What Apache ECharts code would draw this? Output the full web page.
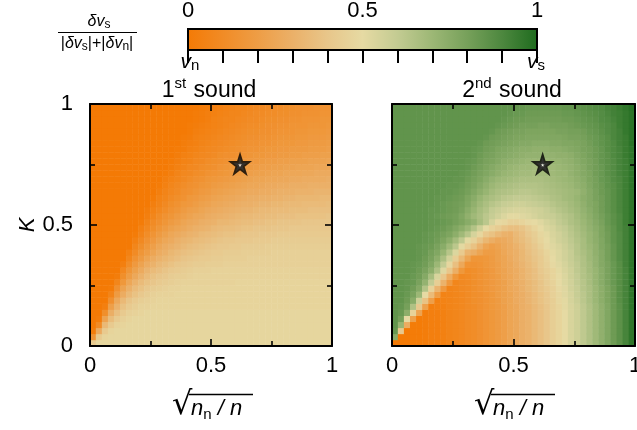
<!DOCTYPE html>
<html><head><meta charset="utf-8">
<script src="https://cdn.jsdelivr.net/npm/echarts@6/dist/echarts.min.js"></script>
<style>html,body{margin:0;padding:0;background:#fff}#c{width:637px;height:430px}</style>
</head><body><div id="c"></div>
<script>
// ---- data ----
// cell centres of the 40 x 40 grid (sqrt(n_n/n) and K)
const xCats = ['0.0125','0.0375','0.0625','0.0875','0.1125','0.1375','0.1625','0.1875','0.2125','0.2375','0.2625','0.2875','0.3125','0.3375','0.3625','0.3875','0.4125','0.4375','0.4625','0.4875','0.5125','0.5375','0.5625','0.5875','0.6125','0.6375','0.6625','0.6875','0.7125','0.7375','0.7625','0.7875','0.8125','0.8375','0.8625','0.8875','0.9125','0.9375','0.9625','0.9875'];
const kCats = ['0.0125','0.0375','0.0625','0.0875','0.1125','0.1375','0.1625','0.1875','0.2125','0.2375','0.2625','0.2875','0.3125','0.3375','0.3625','0.3875','0.4125','0.4375','0.4625','0.4875','0.5125','0.5375','0.5625','0.5875','0.6125','0.6375','0.6625','0.6875','0.7125','0.7375','0.7625','0.7875','0.8125','0.8375','0.8625','0.8875','0.9125','0.9375','0.9625','0.9875'];
// ratio x100, rows from K=0.0125 (bottom) to K=0.9875 (top)
const firstSound = [
[42,48,48,48,48,48,48,48,48,48, 48,48,48,48,48,48,48,48,48,48, 48,48,48,48,48,48,48,48,48,48, 48,48,48,48,48,48,48,48,48,48],
[15,42,47,48,48,48,48,48,48,48, 48,48,48,48,48,48,48,48,48,48, 48,48,48,48,48,48,48,48,48,48, 48,48,48,48,48,48,48,48,48,48],
[2,27,42,47,48,48,48,48,48,48, 48,48,48,48,48,48,48,48,48,48, 48,48,48,48,48,48,48,48,48,48, 48,48,48,48,48,48,48,48,48,48],
[0,10,34,42,46,47,48,48,48,48, 48,48,48,48,48,48,48,48,48,48, 48,48,48,48,48,48,48,48,48,48, 48,48,48,48,48,48,48,48,48,48],
[0,2,23,36,42,45,47,48,48,48, 48,48,48,48,48,48,48,48,48,48, 48,48,48,48,48,48,48,48,48,48, 48,48,48,48,48,48,48,48,48,48],
[0,0,12,29,37,42,45,46,47,48, 48,48,48,48,48,48,48,48,48,48, 48,48,48,48,48,48,48,48,48,48, 48,48,48,48,48,48,48,48,48,48],
[0,0,3,21,31,38,42,44,46,46, 47,47,47,47,47,47,47,47,47,47, 47,47,47,47,47,47,47,47,47,47, 47,47,47,47,47,47,47,47,47,47],
[0,0,0,13,26,34,39,42,44,45, 46,47,47,47,47,47,47,47,47,47, 47,47,47,47,47,47,47,47,47,47, 47,47,47,47,47,47,47,47,47,47],
[0,0,0,6,19,28,34,38,41,43, 45,46,46,46,47,47,47,47,47,47, 47,47,47,47,47,47,47,47,47,47, 47,47,47,47,47,47,47,47,47,47],
[0,0,0,1,13,23,30,35,38,41, 43,44,45,46,46,47,47,47,47,47, 47,47,47,47,47,47,47,47,47,47, 47,47,47,47,47,47,47,47,47,47],
[0,0,0,0,7,17,25,31,35,38, 40,42,43,44,45,46,46,46,46,46, 46,46,46,46,47,47,47,47,47,47, 47,47,47,47,47,47,47,47,47,47],
[0,0,0,0,2,12,20,26,31,35, 38,40,41,43,44,44,45,46,46,46, 46,46,46,46,46,46,46,46,46,46, 46,46,46,46,46,46,46,46,46,46],
[0,0,0,0,0,8,16,22,27,32, 35,37,39,41,42,43,44,45,45,45, 46,46,46,46,46,46,46,46,46,46, 46,46,46,46,46,46,46,46,46,46],
[0,0,0,0,0,3,11,18,23,28, 31,34,36,38,40,41,42,43,43,44, 44,44,45,45,45,45,45,45,45,45, 45,45,45,45,45,45,45,45,45,45],
[0,0,0,0,0,0,7,14,19,24, 28,31,33,35,37,39,40,41,42,42, 43,43,44,44,44,44,45,45,45,45, 45,45,45,45,45,45,45,45,45,45],
[0,0,0,0,0,0,4,10,16,20, 24,28,30,33,35,37,38,39,40,41, 42,42,43,43,43,44,44,44,44,44, 45,45,45,45,45,45,45,45,45,45],
[0,0,0,0,0,0,0,7,12,17, 21,25,28,30,32,34,36,37,38,39, 40,41,41,42,42,43,43,43,43,44, 44,44,44,44,44,44,44,44,44,44],
[0,0,0,0,0,0,0,4,9,14, 18,22,25,27,30,32,33,35,36,37, 38,39,40,40,41,41,41,42,42,42, 43,43,43,43,43,43,43,43,43,43],
[0,0,0,0,0,0,0,1,6,11, 15,19,22,25,27,29,31,32,34,35, 36,37,38,38,39,40,40,40,41,41, 41,42,42,42,42,42,42,42,42,42],
[0,0,0,0,0,0,0,0,4,8, 12,16,19,22,24,26,28,30,31,32, 34,35,36,36,37,38,38,39,39,39, 40,40,40,41,41,41,41,41,41,41],
[0,0,0,0,0,0,0,0,1,6, 10,13,16,19,21,24,26,27,29,30, 31,33,33,34,35,36,36,37,37,38, 38,39,39,39,39,40,40,40,40,40],
[0,0,0,0,0,0,0,0,0,3, 7,11,14,16,19,21,23,25,26,28, 29,30,31,32,33,34,34,35,35,36, 36,37,37,37,38,38,38,38,38,39],
[0,0,0,0,0,0,0,0,0,2, 5,8,11,14,16,19,21,22,24,26, 27,28,29,30,31,32,32,33,34,34, 35,35,35,36,36,36,37,37,37,37],
[0,0,0,0,0,0,0,0,0,0, 3,6,9,12,14,17,18,20,22,23, 25,26,27,28,29,30,30,31,32,32, 33,33,34,34,34,35,35,35,35,36],
[0,0,0,0,0,0,0,0,0,0, 1,5,7,10,12,14,17,18,20,21, 23,24,25,26,27,28,29,29,30,30, 31,31,32,32,33,33,33,33,34,34],
[0,0,0,0,0,0,0,0,0,0, 0,3,6,8,10,13,14,16,18,19, 21,22,23,24,25,26,27,27,28,28, 29,30,30,30,31,31,31,32,32,32],
[0,0,0,0,0,0,0,0,0,0, 0,1,4,7,9,11,13,14,16,17, 19,20,21,22,23,24,25,25,26,27, 27,28,28,29,29,29,30,30,30,30],
[0,0,0,0,0,0,0,0,0,0, 0,0,3,5,7,9,11,13,14,16, 17,18,19,20,21,22,23,24,24,25, 25,26,26,27,27,28,28,28,28,29],
[0,0,0,0,0,0,0,0,0,0, 0,0,1,3,6,8,9,11,12,14, 15,16,17,18,19,20,21,22,22,23, 24,24,25,25,25,26,26,27,27,27],
[0,0,0,0,0,0,0,0,0,0, 0,0,0,2,4,6,8,9,11,12, 13,15,16,17,18,19,19,20,21,21, 22,22,23,23,24,24,24,25,25,25],
[0,0,0,0,0,0,0,0,0,0, 0,0,0,1,3,5,6,8,9,11, 12,13,14,15,16,17,18,18,19,20, 20,21,21,22,22,22,23,23,23,24],
[0,0,0,0,0,0,0,0,0,0, 0,0,0,0,2,4,5,7,8,9, 10,12,13,13,14,15,16,17,17,18, 18,19,19,20,20,21,21,21,22,22],
[0,0,0,0,0,0,0,0,0,0, 0,0,0,0,1,2,4,5,7,8, 9,10,11,12,13,14,15,15,16,17, 17,18,18,19,19,19,20,20,20,21],
[0,0,0,0,0,0,0,0,0,0, 0,0,0,0,0,2,3,4,6,7, 8,9,10,11,12,13,14,14,15,15, 16,17,17,17,18,18,19,19,19,20],
[0,0,0,0,0,0,0,0,0,0, 0,0,0,0,0,1,2,4,5,6, 7,8,9,10,11,12,13,13,14,14, 15,16,16,16,17,17,18,18,18,19],
[0,0,0,0,0,0,0,0,0,0, 0,0,0,0,0,0,1,3,4,5, 6,7,8,9,10,11,12,12,13,13, 14,15,15,15,16,16,17,17,17,18],
[0,0,0,0,0,0,0,0,0,0, 0,0,0,0,0,0,1,2,3,4, 5,6,7,8,9,10,11,11,12,13, 13,14,14,15,15,15,16,16,16,17],
[0,0,0,0,0,0,0,0,0,0, 0,0,0,0,0,0,0,1,2,3, 5,6,7,7,8,9,10,10,11,12, 12,13,13,14,14,15,15,15,16,16],
[0,0,0,0,0,0,0,0,0,0, 0,0,0,0,0,0,0,1,2,3, 4,5,6,7,7,8,9,10,10,11, 11,12,12,13,13,14,14,14,15,15],
[0,0,0,0,0,0,0,0,0,0, 0,0,0,0,0,0,0,0,1,2, 3,4,5,6,7,7,8,9,9,10, 11,11,12,12,13,13,13,14,14,14]
];
const secondSound = [
[0,0,0,1,1,2,3,3,4,6, 7,8,10,11,13,15,17,19,21,24, 26,29,31,34,37,40,44,47,50,54, 57,61,65,69,73,77,82,86,91,96],
[75,0,0,1,1,2,3,3,4,6, 7,8,10,11,13,15,17,19,21,24, 26,29,31,34,37,40,44,47,50,54, 57,61,65,69,73,77,82,86,91,96],
[84,41,0,1,1,2,3,3,4,6, 7,8,10,11,13,15,17,19,21,24, 26,29,31,34,37,40,44,47,50,54, 57,61,65,69,73,77,82,86,91,96],
[85,71,28,1,1,2,3,3,4,6, 7,8,10,11,13,15,17,19,21,24, 26,29,31,34,37,40,44,47,50,54, 57,61,65,69,73,77,82,86,91,96],
[85,80,50,22,1,2,3,3,4,6, 7,8,10,11,13,15,17,19,21,24, 26,29,31,34,37,40,44,47,50,54, 57,61,65,69,73,77,82,86,91,96],
[85,83,74,46,23,2,3,3,4,6, 7,8,10,11,13,15,17,19,21,24, 26,29,31,34,37,40,44,47,50,54, 57,61,65,69,73,77,82,86,91,96],
[85,84,80,65,41,22,3,4,4,6, 7,8,10,11,13,15,17,19,21,24, 26,29,31,34,37,40,44,47,51,54, 57,61,65,69,73,77,82,86,91,96],
[85,85,82,75,57,38,21,4,5,6, 7,8,10,12,13,15,17,19,22,24, 27,29,32,35,38,41,44,48,51,55, 58,62,66,70,74,78,82,87,91,96],
[85,85,83,79,70,50,35,20,5,6, 7,8,10,12,13,15,17,20,22,24, 27,29,32,35,38,41,45,48,52,55, 59,62,66,70,74,78,82,87,91,96],
[85,85,84,81,76,64,46,32,18,6, 7,9,10,12,14,16,18,20,22,25, 27,30,33,36,39,42,45,49,52,56, 59,63,66,70,74,78,82,87,91,96],
[85,85,84,83,79,72,60,44,31,18, 7,9,10,12,14,16,18,20,22,25, 28,30,33,36,39,43,46,50,53,56, 60,63,67,71,75,79,83,87,91,96],
[85,85,85,83,81,76,67,54,40,28, 16,9,10,12,14,16,18,20,23,25, 28,31,34,37,40,43,47,50,53,57, 60,64,67,71,75,79,83,87,91,96],
[85,85,85,84,82,79,74,65,52,40, 29,17,11,12,14,16,18,21,23,26, 28,31,34,37,41,44,47,51,54,57, 61,64,68,71,75,79,83,87,91,96],
[85,85,85,84,83,81,77,70,60,48, 37,26,15,14,15,17,19,21,24,26, 29,32,35,38,42,45,49,52,55,58, 61,65,68,72,76,79,83,87,92,96],
[85,85,85,85,84,82,79,74,66,56, 44,34,24,16,16,17,19,22,24,27, 30,33,36,39,42,46,50,53,56,59, 62,65,69,72,76,80,84,88,92,96],
[85,85,85,85,84,83,80,77,71,63, 53,42,32,29,24,20,20,22,25,28, 30,33,37,40,43,47,51,53,56,59, 63,66,69,73,76,80,84,88,92,96],
[85,85,85,85,84,83,82,79,75,69, 62,51,44,38,31,24,21,23,26,28, 31,34,38,41,45,49,52,54,57,60, 63,67,70,73,77,80,84,88,92,96],
[85,85,85,85,85,84,83,81,78,74, 68,61,51,46,39,33,29,26,27,29, 33,36,39,43,47,50,53,56,58,61, 64,67,71,74,77,81,85,88,92,96],
[85,85,85,85,85,84,83,82,80,78, 74,69,63,55,48,41,38,34,31,30, 34,37,41,44,48,51,54,56,59,62, 65,68,71,74,78,81,85,88,92,96],
[85,85,85,85,85,85,84,83,82,80, 77,74,70,64,57,50,46,43,39,37, 37,39,43,47,50,53,55,58,60,63, 66,69,72,75,78,82,85,89,92,96],
[85,85,85,85,85,85,84,84,83,82, 80,78,75,72,67,62,55,49,48,45, 45,47,49,50,52,55,57,60,62,65, 67,70,73,76,79,83,86,89,93,96],
[85,85,85,85,85,85,84,83,82,81, 80,77,73,69,66,62,59,56,53,51, 51,52,53,55,57,58,59,61,63,65, 68,71,74,77,80,83,86,89,93,96],
[85,85,85,85,85,85,84,84,83,82, 81,79,75,71,67,64,60,58,56,55, 54,54,55,56,57,59,61,63,65,67, 69,72,75,78,81,84,87,90,93,96],
[85,85,85,85,85,85,85,84,83,82, 81,80,77,73,69,66,63,61,59,58, 57,57,58,59,60,61,63,65,66,68, 70,73,76,78,81,84,87,90,93,96],
[85,85,85,85,85,85,85,84,84,83, 82,81,78,75,71,68,66,64,62,61, 60,60,60,61,62,63,65,66,68,69, 71,74,76,79,81,84,87,90,93,96],
[85,85,85,85,85,85,85,85,84,84, 83,82,80,77,74,71,68,66,65,64, 63,62,62,63,64,65,66,67,68,69, 70,73,76,79,82,84,87,90,93,96],
[85,85,85,85,85,85,85,85,85,84, 84,83,81,79,76,73,70,68,67,66, 65,64,64,64,65,66,67,68,69,70, 72,74,77,80,82,85,87,90,93,96],
[85,85,85,85,85,85,85,85,85,85, 84,84,82,80,78,75,72,70,69,68, 67,66,66,66,66,67,68,69,70,71, 73,75,78,80,83,85,88,90,93,96],
[85,85,85,85,85,85,85,85,85,85, 85,84,83,81,79,77,75,73,71,70, 69,68,68,67,68,68,69,70,70,72, 74,76,78,81,83,86,88,91,93,96],
[85,85,85,85,85,85,85,85,85,85, 85,85,84,82,80,78,76,74,73,71, 70,69,69,68,68,69,69,70,71,72, 74,76,79,81,83,86,88,91,93,96],
[85,85,85,85,85,85,85,85,85,85, 85,85,84,83,81,79,78,76,74,73, 72,71,70,70,70,70,71,71,72,73, 75,77,79,81,84,86,88,91,93,96],
[85,85,85,85,85,85,85,85,85,85, 85,85,85,84,82,80,79,77,76,75, 74,73,72,72,72,72,72,73,73,74, 76,78,80,82,84,86,89,91,94,96],
[85,85,85,85,85,85,85,85,85,85, 85,85,85,84,83,81,80,78,77,76, 75,74,74,73,73,73,74,74,75,76, 77,79,80,82,84,87,89,91,94,96],
[85,85,85,85,85,85,85,85,85,85, 85,85,85,85,84,82,81,80,79,78, 77,76,76,75,75,75,76,76,77,77, 78,79,81,83,85,87,89,92,94,97],
[85,85,85,85,85,85,85,85,85,85, 85,85,85,85,85,84,82,81,80,79, 78,78,77,77,77,77,77,77,78,79, 79,80,82,83,85,87,90,92,94,97],
[85,85,85,85,85,85,85,85,85,85, 85,85,85,85,85,85,84,82,81,80, 79,79,78,78,78,78,78,79,79,80, 80,81,83,84,86,88,90,92,95,97],
[85,85,85,85,85,85,85,85,85,85, 85,85,85,85,85,85,85,84,83,82, 81,80,80,80,79,79,80,80,80,81, 82,83,84,85,87,88,90,93,95,97],
[85,85,85,85,85,85,85,85,85,85, 85,85,85,85,85,85,85,85,84,83, 82,82,81,81,81,81,81,81,82,82, 83,84,85,86,88,89,91,93,95,97],
[85,85,85,85,85,85,85,85,85,85, 85,85,85,85,85,85,85,85,85,84, 83,83,82,82,82,82,82,82,83,83, 84,85,86,87,88,90,92,93,95,97],
[85,85,85,85,85,85,85,85,85,85, 85,85,85,85,85,85,85,85,85,85, 84,84,83,83,83,83,83,83,84,84, 85,86,87,88,89,91,92,94,96,98]
];
const starX = [0.62];
const starK = [0.75];
const axisTickLabels = {0: '0', 0.5: '0.5', 1: '1'};
const cbarTickLabels = {0: '0', 0.5: '0.5', 1: '1'};

// ---- styling ----
const FONT = 'Liberation Sans, Arial, sans-serif';
const cmap = ['#f47a05','#f18b25','#ee9d45','#ebb068','#e8c68a','#e6daa3','#c3cb92','#9cb775','#76a05a','#4c873e','#1e6b1e'];

function toCells(rows) {
  const out = [];
  rows.forEach((row, j) => row.forEach((v, i) => out.push([i, j, v])));
  return out;
}

const chart = echarts.init(document.getElementById('c'), null, {renderer: 'canvas', width: 637, height: 430});

const G1 = {left: 90, top: 104, width: 242, height: 242, outerBoundsMode: 'none', containLabel: false};
const G2 = {left: 392, top: 104, width: 243, height: 242, outerBoundsMode: 'none', containLabel: false};
const GC = {left: 188, top: 29, width: 349, height: 21, outerBoundsMode: 'none', containLabel: false};

function fmt(v) { const k = Math.round(v * 100) / 100; return axisTickLabels[k] !== undefined ? axisTickLabels[k] : ''; }

function frameAxis(gridIndex, pos, showLabel, extra) {
  return Object.assign({
    type: 'value', gridIndex: gridIndex, position: pos, min: 0, max: 1, interval: 0.5, z: 10,
    axisLine: {show: true, onZero: false, lineStyle: {color: '#000', width: 2}},
    axisTick: {show: true, inside: true, length: 7, lineStyle: {color: '#000', width: 1.6}},
    minorTick: {show: true, splitNumber: 2, length: 5, lineStyle: {color: '#000', width: 1.6}},
    splitLine: {show: false}, minorSplitLine: {show: false},
    axisLabel: {show: showLabel, color: '#000', fontSize: 22, fontFamily: FONT, margin: pos === 'left' ? 17 : 9, formatter: fmt}
  }, extra || {});
}

const hidCat = (gi, data) => ({type: 'category', gridIndex: gi, data: data, show: false, boundaryGap: true});

const richMath = {
  i: {fontSize: 22, fontStyle: 'italic', fontFamily: FONT, color: '#000', lineHeight: 26, verticalAlign: 'middle'},
  s: {fontSize: 15, fontFamily: FONT, color: '#000', lineHeight: 15, verticalAlign: 'bottom'}
};

function sqrtLabel(cx) {
  const x0 = cx - 39;
  return [
    {type: 'text', z: 20, style: {x: x0, y: 422, text: '√', fontSize: 32, fontFamily: 'DejaVu Sans', fill: '#000', align: 'left', verticalAlign: 'bottom'}},
    {type: 'line', z: 20, shape: {x1: x0 + 17, y1: 394.5, x2: x0 + 81, y2: 394.5}, style: {stroke: '#000', lineWidth: 1.3}},
    {type: 'text', z: 20, style: {x: x0 + 19, y: 409, text: '{i|n}{s|n}{i| / n}', rich: richMath, align: 'left', verticalAlign: 'middle'}}
  ];
}

const titleRich = {
  n: {fontSize: 23, fontFamily: FONT, color: '#000', lineHeight: 26, verticalAlign: 'bottom'},
  p: {fontSize: 15, fontFamily: FONT, color: '#000', lineHeight: 26, verticalAlign: 'top', padding: [0, 1, 0, 0]}
};

const fracRich = {
  i: {fontSize: 16, fontStyle: 'italic', fontFamily: FONT, color: '#000', lineHeight: 18, verticalAlign: 'middle'},
  n: {fontSize: 16, fontFamily: FONT, color: '#000', lineHeight: 18, verticalAlign: 'middle'},
  s: {fontSize: 12, fontFamily: FONT, color: '#000', lineHeight: 12, verticalAlign: 'bottom'}
};
const vRich = {
  i: {fontSize: 21, fontStyle: 'italic', fontFamily: FONT, color: '#000', lineHeight: 22, verticalAlign: 'middle'},
  s: {fontSize: 15, fontFamily: FONT, color: '#000', lineHeight: 14, verticalAlign: 'bottom'}
};

const starPath = 'path://M50,0 L61.8,35.1 L100,35.1 L69.1,57.4 L80.9,92.7 L50,70.5 L19.1,92.7 L30.9,57.4 L0,35.1 L38.2,35.1 Z';

const option = {
  animation: false,
  backgroundColor: '#fff',
  grid: [
    Object.assign({}, G1, {show: false}),
    Object.assign({}, G2, {show: false}),
    Object.assign({}, G1, {show: false}),
    Object.assign({}, G2, {show: false}),
    Object.assign({}, GC, {show: true, borderColor: '#000', borderWidth: 2,
      backgroundColor: new echarts.graphic.LinearGradient(0, 0, 1, 0, cmap.map((c, i) => ({offset: i / (cmap.length - 1), color: c})))})
  ],
  xAxis: [
    hidCat(0, xCats),
    hidCat(1, xCats),
    frameAxis(2, 'bottom', true),
    frameAxis(2, 'top', false),
    frameAxis(3, 'bottom', true),
    frameAxis(3, 'top', false),
    {type: 'value', gridIndex: 4, position: 'top', min: 0, max: 1, interval: 0.1, z: 10,
     axisLine: {show: false}, splitLine: {show: false},
     axisTick: {show: true, inside: true, length: 13, lineStyle: {color: '#000', width: 2}},
     axisLabel: {show: true, color: '#000', fontSize: 22, fontFamily: FONT, margin: 7,
       formatter: v => { const k = Math.round(v * 100) / 100; return cbarTickLabels[k] !== undefined ? cbarTickLabels[k] : ''; }}}
  ],
  yAxis: [
    hidCat(0, kCats),
    hidCat(1, kCats),
    frameAxis(2, 'left', true, {name: 'K', nameLocation: 'middle', nameGap: 51, nameRotate: 90,
      nameTextStyle: {fontSize: 22, fontStyle: 'italic', fontFamily: FONT, color: '#000'}}),
    frameAxis(2, 'right', false),
    frameAxis(3, 'left', false),
    frameAxis(3, 'right', false),
    {type: 'value', gridIndex: 4, min: 0, max: 1, show: false}
  ],
  visualMap: {type: 'continuous', min: 0, max: 100, show: false, seriesIndex: [0, 1], inRange: {color: cmap}},
  series: [
    {type: 'heatmap', xAxisIndex: 0, yAxisIndex: 0, data: toCells(firstSound), itemStyle: {borderWidth: 0}, emphasis: {disabled: true}, progressive: 0},
    {type: 'heatmap', xAxisIndex: 1, yAxisIndex: 1, data: toCells(secondSound), itemStyle: {borderWidth: 0}, emphasis: {disabled: true}, progressive: 0},
    {type: 'scatter', xAxisIndex: 2, yAxisIndex: 2, z: 20, data: starX.map((x, i) => [x, starK[i]]),
     symbol: starPath, symbolSize: 14, itemStyle: {color: '#fff', borderColor: '#000', borderWidth: 3.5}},
    {type: 'scatter', xAxisIndex: 4, yAxisIndex: 4, z: 20, data: starX.map((x, i) => [x, starK[i]]),
     symbol: starPath, symbolSize: 14, itemStyle: {color: '#fff', borderColor: '#000', borderWidth: 3.5}}
  ],
  graphic: [
    {type: 'text', z: 20, style: {x: 209, y: 102, text: '{n|1}{p|st}{n| sound}', rich: titleRich, align: 'center', verticalAlign: 'bottom'}},
    {type: 'text', z: 20, style: {x: 512, y: 102, text: '{n|2}{p|nd}{n| sound}', rich: titleRich, align: 'center', verticalAlign: 'bottom'}},
    {type: 'text', z: 20, style: {x: 99, y: 22, text: '{i|δv}{s|s}', rich: fracRich, align: 'center', verticalAlign: 'middle'}},
    {type: 'line', z: 20, shape: {x1: 58, y1: 32.5, x2: 137, y2: 32.5}, style: {stroke: '#000', lineWidth: 1}},
    {type: 'text', z: 20, style: {x: 97, y: 44, text: '{n||}{i|δv}{s|s}{n||+|}{i|δv}{s|n}{n||}', rich: fracRich, align: 'center', verticalAlign: 'middle'}},
    {type: 'text', z: 20, style: {x: 190, y: 62, text: '{i|v}{s|n}', rich: vRich, align: 'center', verticalAlign: 'middle'}},
    {type: 'text', z: 20, style: {x: 536, y: 62, text: '{i|v}{s|s}', rich: vRich, align: 'center', verticalAlign: 'middle'}}
  ].concat(sqrtLabel(211), sqrtLabel(513))
};
chart.setOption(option);
</script>
</body></html>
